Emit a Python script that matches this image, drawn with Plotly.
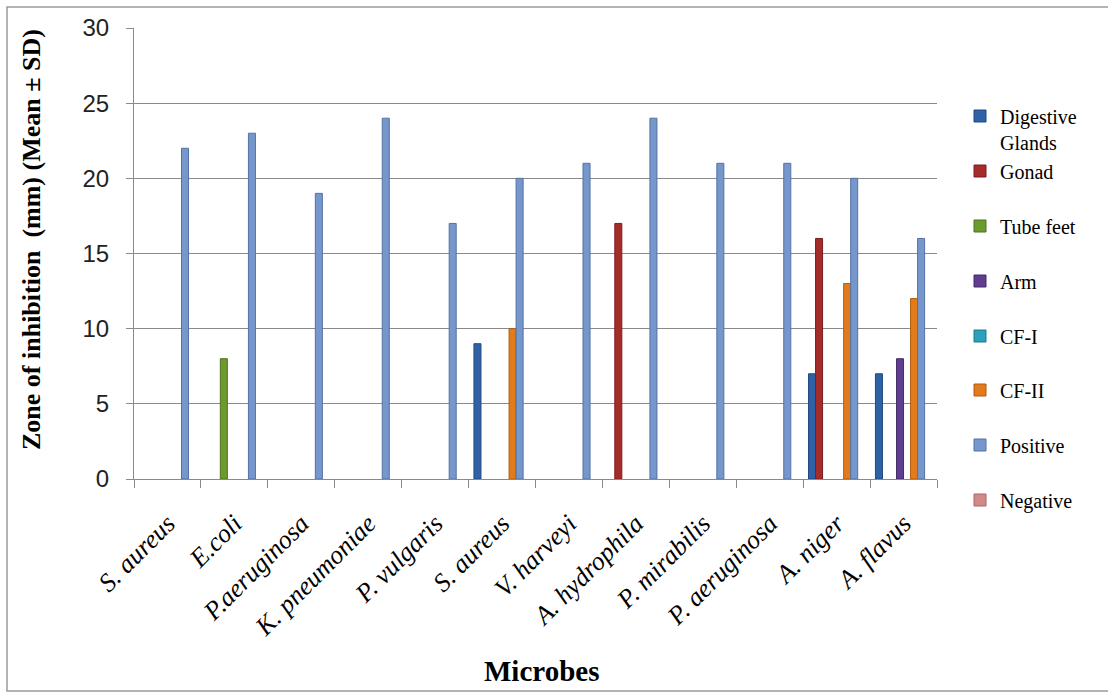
import plotly.graph_objects as go

# Test organisms (x categories, in plotting order)
microbes = ["S. aureus", "E.coli", "P.aeruginosa", "K. pneumoniae", "P. vulgaris",
            "S. aureus", "V. harveyi", "A. hydrophila", "P. mirabilis",
            "P. aeruginosa", "A. niger", "A. flavus"]

# Zone of inhibition (mm); None = no zone observed
digestive_glands = [None, None, None, None, None, 9, None, None, None, None, 7, 7]
gonad = [None, None, None, None, None, None, None, 17, None, None, 16, None]
tube_feet = [None, 8, None, None, None, None, None, None, None, None, None, None]
arm = [None, None, None, None, None, None, None, None, None, None, None, 8]
cf_1 = [None] * 12
cf_2 = [None, None, None, None, None, 10, None, None, None, None, 13, 12]
positive = [22, 23, 19, 24, 17, 20, 21, 24, 21, 21, 20, 16]
negative = [None] * 12

series_names = ["Digestive<br>Glands", "Gonad", "Tube feet", "Arm", "CF-I", "CF-II",
                "Positive", "Negative"]
series_values = [digestive_glands, gonad, tube_feet, arm, cf_1, cf_2, positive, negative]
fill_colors = ["#2e62a4", "#a62b2b", "#6d9a2c", "#5f3d8f", "#2aa0bb", "#e37b1c",
               "#7597cc", "#d28a88"]
edge_colors = ["#1f4a80", "#7a1f1f", "#4f7320", "#452b6a", "#1d7a8f", "#b05c10",
               "#5572a3", "#a86563"]

W, H = 1108, 693
L, R, T, B = 134, 171, 28, 214
pw, ph = W - L - R, H - T - B

x_pos = list(range(len(microbes)))

fig = go.Figure()
legend_centers = [129, 171, 226, 281, 336, 390, 445, 500]
layout_legends = {}
for i, (name, vals, fc, ec) in enumerate(zip(series_names, series_values, fill_colors, edge_colors)):
    key = "legend" if i == 0 else f"legend{i + 1}"
    fig.add_trace(go.Bar(
        x=x_pos, y=vals, name=name,
        marker=dict(color=fc, line=dict(color=ec, width=1)),
        legend=key,
    ))
    layout_legends[key] = dict(
        xref="container", yref="container",
        x=960 / W, y=1 - legend_centers[i] / H,
        xanchor="left", yanchor="middle",
        valign="top",
        bgcolor="rgba(0,0,0,0)",
        font=dict(family="Liberation Serif", size=20, color="#000000"),
    )

fig.update_layout(**layout_legends)

fig.update_layout(
    width=W, height=H,
    margin=dict(l=L, r=R, t=T, b=B, autoexpand=False),
    paper_bgcolor="white", plot_bgcolor="white",
    barmode="group", bargap=0.16, bargroupgap=0,
    showlegend=True,
    xaxis=dict(
        range=[-0.5, len(microbes) - 0.5],
        tickmode="array", tickvals=x_pos, ticktext=microbes,
        ticks="", tickangle=-45,
        tickfont=dict(family="Liberation Serif", size=26, color="#000000", style="italic"),
        ticklabelstandoff=18,
        showgrid=False, zeroline=False,
        showline=True, linecolor="#8a8a8a", linewidth=1,
        minor=dict(tickmode="array",
                   tickvals=[k - 0.5 for k in range(len(microbes) + 1)],
                   ticks="outside", ticklen=8, tickcolor="#8a8a8a", showgrid=False),
        automargin=False,
    ),
    yaxis=dict(
        range=[0, 30], tickvals=[0, 5, 10, 15, 20, 25, 30],
        ticks="outside", ticklen=7, tickcolor="#8a8a8a",
        tickfont=dict(family="Liberation Sans", size=24, color="#222222"),
        ticklabelstandoff=12,
        showgrid=True, gridcolor="#8a8a8a", gridwidth=1,
        zeroline=False,
        showline=True, linecolor="#8a8a8a", linewidth=1,
        automargin=False,
    ),
)

# Axis titles
fig.add_annotation(
    text="<b>Zone of inhibition  (mm) (Mean ± SD)</b>", xref="paper", yref="paper",
    x=(31 - L) / pw, y=(H - B - 240) / ph, xanchor="center", yanchor="middle",
    textangle=-90, showarrow=False,
    font=dict(family="Liberation Serif", size=26, color="#000000"),
)
fig.add_annotation(
    text="<b>Microbes</b>", xref="paper", yref="paper",
    x=(541 - L) / pw, y=(H - B - 671) / ph, xanchor="center", yanchor="middle",
    showarrow=False,
    font=dict(family="Liberation Serif", size=29, color="#000000"),
)

# Outer chart frame
fig.add_shape(
    type="rect", xref="paper", yref="paper",
    x0=(7 - L) / pw, x1=(W + 4 - L) / pw,
    y0=(H - B - 691) / ph, y1=(H - B - 7) / ph,
    line=dict(color="#9a9a9a", width=1.5), fillcolor="rgba(0,0,0,0)", layer="below",
)

fig.write_html("out.html")
